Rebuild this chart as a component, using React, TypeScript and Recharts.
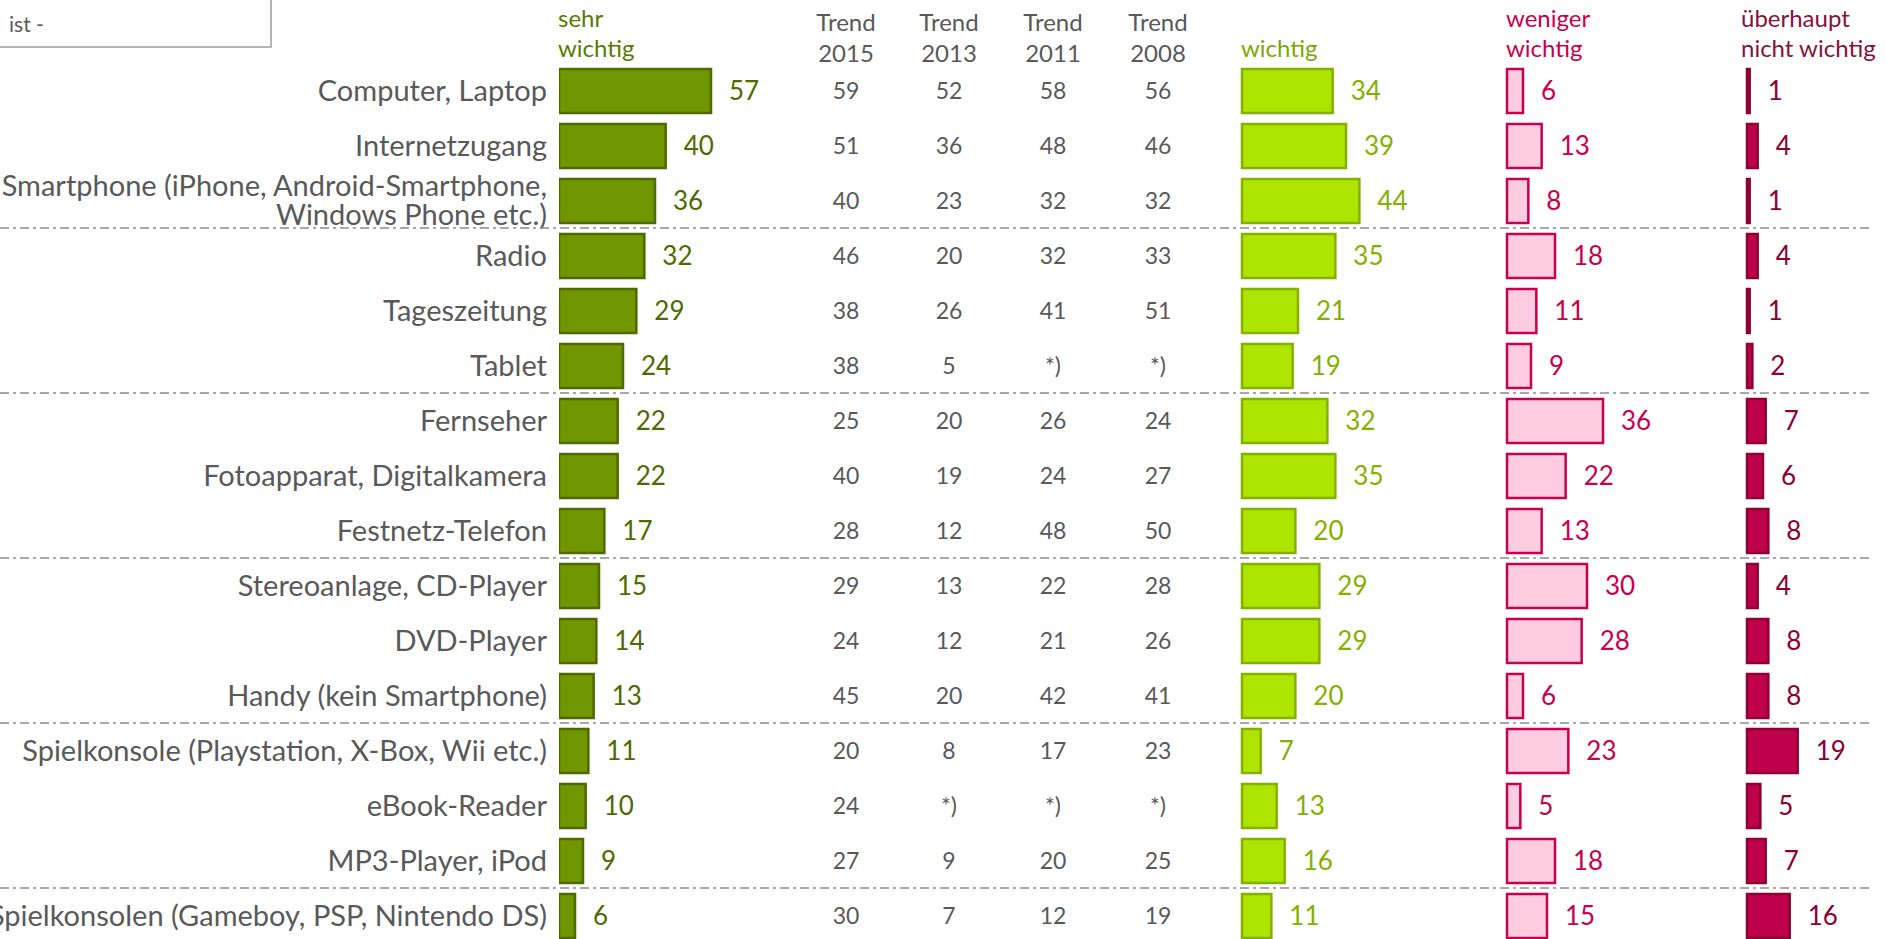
import { BarChart, Bar, XAxis, YAxis, LabelList } from "recharts";

// Wichtigkeit der Geräte, Angaben in Prozent
const categories = [
  "Computer, Laptop",
  "Internetzugang",
  "Smartphone (iPhone, Android-Smartphone,\nWindows Phone etc.)",
  "Radio",
  "Tageszeitung",
  "Tablet",
  "Fernseher",
  "Fotoapparat, Digitalkamera",
  "Festnetz-Telefon",
  "Stereoanlage, CD-Player",
  "DVD-Player",
  "Handy (kein Smartphone)",
  "Spielkonsole (Playstation, X-Box, Wii etc.)",
  "eBook-Reader",
  "MP3-Player, iPod",
  "Spielkonsolen (Gameboy, PSP, Nintendo DS)",
];

const sehrWichtig = [57, 40, 36, 32, 29, 24, 22, 22, 17, 15, 14, 13, 11, 10, 9, 6];
const wichtig = [34, 39, 44, 35, 21, 19, 32, 35, 20, 29, 29, 20, 7, 13, 16, 11];
const wenigerWichtig = [6, 13, 8, 18, 11, 9, 36, 22, 13, 30, 28, 6, 23, 5, 18, 15];
const nichtWichtig = [1, 4, 1, 4, 1, 2, 7, 6, 8, 4, 8, 8, 19, 5, 7, 16];

// null = nicht erhoben: *)
const trend2015 = [59, 51, 40, 46, 38, 38, 25, 40, 28, 29, 24, 45, 20, 24, 27, 30];
const trend2013 = [52, 36, 23, 20, 26, 5, 20, 19, 12, 13, 12, 20, 8, null, 9, 7];
const trend2011 = [58, 48, 32, 32, 41, null, 26, 24, 48, 22, 21, 42, 17, null, 20, 12];
const trend2008 = [56, 46, 32, 33, 51, null, 24, 27, 50, 28, 26, 41, 23, null, 25, 19];
const trendYears = ["2015", "2013", "2011", "2008"];
const trendSeries = [trend2015, trend2013, trend2011, trend2008];

const rows = categories.map((name, i) => ({
  name,
  sehr: sehrWichtig[i],
  wichtig: wichtig[i],
  weniger: wenigerWichtig[i],
  nicht: nichtWichtig[i],
}));

const W = 1885;
const H = 960;
const MT = 63;
const MB = 17;
const ROW_H = (H - MT - MB) / categories.length;
const PLOT_LEFT = 559;
const PLOT_W = W - PLOT_LEFT;
const PX = 2.667; // pixel per percent point, same for all four blocks
const LABEL_X = 547;
const TREND_X = [846, 949, 1053, 1158];
const FONT = "Lato, 'Open Sans', sans-serif";
const GREY = "#595959";

const blocks = [
  { key: "sehr", start: 559, fill: "#709600", stroke: "#4e6a00", text: "#4e6a00", head: "#5a7a00", title: ["sehr", "wichtig"] },
  { key: "wichtig", start: 1242, fill: "#aee500", stroke: "#84b000", text: "#86b000", head: "#7fa800", title: ["", "wichtig"] },
  { key: "weniger", start: 1507, fill: "#ffcce0", stroke: "#c8004e", text: "#c8004e", head: "#c8004e", title: ["weniger", "wichtig"] },
  { key: "nicht", start: 1747, fill: "#bf004b", stroke: "#8c0032", text: "#8c0032", head: "#86123c", title: ["überhaupt", "nicht wichtig"] },
];

function domainFor(start: number): [number, number] {
  const u = (start - PLOT_LEFT) / PX;
  return [-u, PLOT_W / PX - u];
}

// eslint-disable-next-line @typescript-eslint/no-explicit-any
const RowTick = (props: any) => {
  const { y, payload } = props;
  const idx = categories.indexOf(payload.value);
  const lines = String(payload.value).split("\n");
  const top = y - ROW_H / 2;
  return (
    <g>
      {idx > 0 && idx % 3 === 0 && (
        <line x1={0} x2={1870} y1={top} y2={top} stroke="#8c8c8c" strokeWidth={1.5} strokeDasharray="9 4 3 4" />
      )}
      {lines.map((l, i) => (
        <text
          key={i}
          x={LABEL_X}
          y={y + (i - (lines.length - 1) / 2) * 29}
          dy="0.35em"
          textAnchor="end"
          fill={GREY}
          fontSize={29}
          fontFamily={FONT}
        >
          {l}
        </text>
      ))}
      {trendSeries.map((s, j) => (
        <text key={"t" + j} x={TREND_X[j]} y={y} dy="0.35em" textAnchor="middle" fill={GREY} fontSize={23} fontFamily={FONT}>
          {s[idx] == null ? "*)" : s[idx]}
        </text>
      ))}
    </g>
  );
};

export default function App() {
  return (
    <div style={{ position: "absolute", left: 0, top: 0, width: W, height: 939, overflow: "hidden", background: "#fff", fontFamily: FONT }}>
      {/* Frage-Kasten oben links */}
      <div style={{
        position: "absolute", left: -2, top: -2, width: 274, height: 50,
        border: "2px solid #b4b4b4", boxSizing: "border-box",
        fontSize: 21, color: GREY, lineHeight: "48px", paddingLeft: 9,
      }}>
        ist -
      </div>

      {/* Spaltenköpfe */}
      {blocks.map((b) => (
        <div key={b.key} style={{ position: "absolute", left: b.start - (b.key === "nicht" ? 6 : 1), top: 3, fontSize: 24, lineHeight: "30px", color: b.head, whiteSpace: "nowrap" }}>
          <div>{b.title[0] || "\u00a0"}</div>
          <div>{b.title[1]}</div>
        </div>
      ))}
      {trendYears.map((yr, j) => (
        <div key={yr} style={{ position: "absolute", left: TREND_X[j] - 50, width: 100, top: 6, textAlign: "center", fontSize: 24, lineHeight: "31px", color: GREY }}>
          <div>Trend</div>
          <div>{yr}</div>
        </div>
      ))}

      <div style={{ position: "absolute", left: 0, top: 0 }}>
        <BarChart layout="vertical" width={W} height={H} data={rows} margin={{ top: MT, right: 0, bottom: MB, left: 0 }}>
          {blocks.map((b) => (
            <XAxis key={"x" + b.key} xAxisId={b.key} type="number" hide domain={domainFor(b.start)} allowDataOverflow />
          ))}
          {blocks.map((b, i) =>
            i === 0 ? (
              <YAxis
                key={"y" + b.key}
                yAxisId={b.key}
                type="category"
                dataKey="name"
                width={PLOT_LEFT}
                axisLine={false}
                tickLine={false}
                interval={0}
                tick={<RowTick />}
              />
            ) : (
              <YAxis key={"y" + b.key} yAxisId={b.key} type="category" dataKey="name" hide />
            )
          )}
          {blocks.map((b) => (
            <Bar
              key={b.key}
              dataKey={b.key}
              xAxisId={b.key}
              yAxisId={b.key}
              fill={b.fill}
              stroke={b.stroke}
              strokeWidth={2.5}
              barSize={44}
              isAnimationActive={false}
            >
              <LabelList dataKey={b.key} position="right" offset={18} fill={b.text} fontSize={26} fontFamily={FONT} />
            </Bar>
          ))}
        </BarChart>
      </div>
    </div>
  );
}
